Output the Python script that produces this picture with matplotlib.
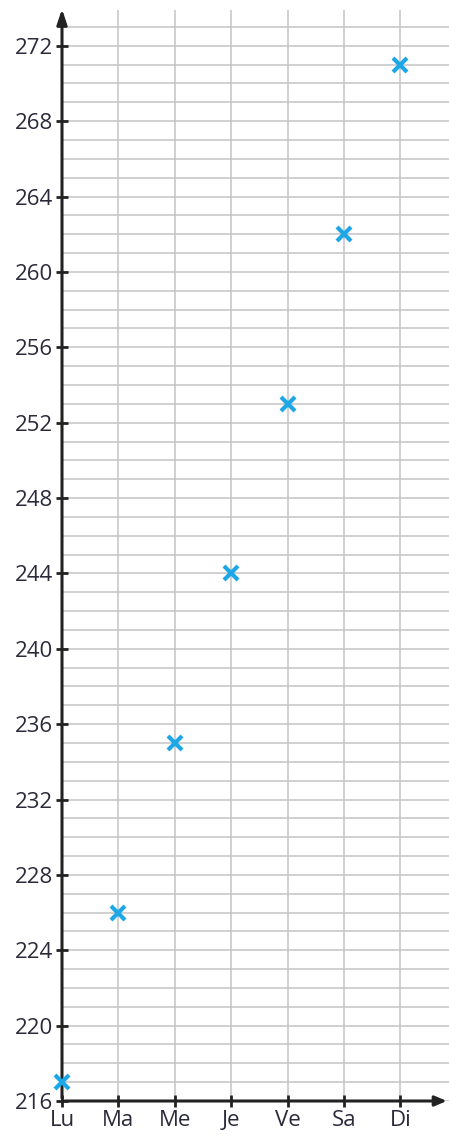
import matplotlib.pyplot as plt

days = ["Lu", "Ma", "Me", "Je", "Ve", "Sa", "Di"]
values = [217, 226, 235, 244, 253, 262, 271]
y_ticks = list(range(216, 273, 4))

plt.rcParams['font.family'] = ['Open Sans', 'DejaVu Sans']
text_color = "#2a2a3a"

fig = plt.figure(figsize=(4.49, 11.38), dpi=100)
ax = fig.add_axes([62 / 449, 37 / 1138, 387 / 449, 1091 / 1138])

x = list(range(len(days)))

# grid: one line per unit on y, one per day on x
for v in range(216, 274):
    ax.axhline(v, color="#c4c4c4", lw=1.1, zorder=1)
for i in x[1:]:
    ax.axvline(i, color="#c4c4c4", lw=1.1, zorder=1)

ax.plot(x, values, linestyle="none", marker="x", color="#1ea7e6",
        markersize=9.5, markeredgewidth=3, zorder=5, clip_on=False)

ax.set_xlim(0, 6.86)
ax.set_ylim(216, 273.9)

for s in ax.spines.values():
    s.set_visible(False)

# axes with arrows
ax.annotate("", xy=(6.87, 216), xytext=(0, 216),
            arrowprops=dict(arrowstyle="-|>,head_length=0.7,head_width=0.3", color="#222222", lw=2.2),
            annotation_clip=False, zorder=4)
ax.annotate("", xy=(0, 274.1), xytext=(0, 216),
            arrowprops=dict(arrowstyle="-|>,head_length=0.9,head_width=0.3", color="#222222", lw=2.2),
            annotation_clip=False, zorder=4)

ax.set_xticks(x)
ax.set_xticklabels(days)
ax.set_yticks(y_ticks)
ax.tick_params(axis="both", direction="inout", length=9, width=2, color="#222222",
               labelsize=16, labelcolor=text_color)
ax.tick_params(axis="x", pad=2)
ax.tick_params(axis="y", pad=2)

plt.savefig("out.png", dpi=100)
